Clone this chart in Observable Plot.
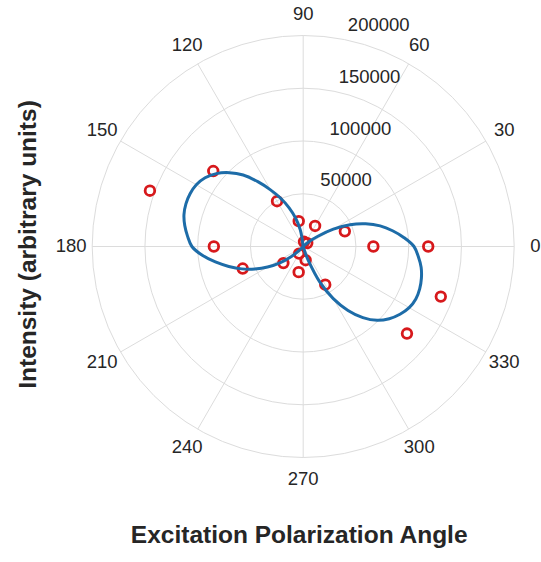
<!DOCTYPE html>
<html>
<head>
<meta charset="utf-8">
<script src="https://cdn.jsdelivr.net/npm/d3@7"></script>
<script src="https://cdn.jsdelivr.net/npm/@observablehq/plot@0.6"></script>
<style>
  html, body { margin: 0; padding: 0; background: #ffffff; }
</style>
</head>
<body>
<div id="chart"></div>
<script>
// ---------- data ----------
const pointAngles = [0, 20, 40, 60, 80, 100, 120, 140, 160, 180, 200, 220, 240, 260, 280, 300, 320, 340, 360];
const pointIntensity = [118500, 42000, 5000, 22500, 4500, 24400, 49600, 111300, 154600, 84700, 61000, 24500, 7800, 24700, 13200, 41800, 128400, 138800, 66500];

// fitted curve, right lobe (angle in degrees, intensity)
const fitAnglesA = [-76, -72, -70, -65, -60, -55, -50, -45, -40, -35, -30, -25, -20, -15, -10, -5, 0, 5, 10, 15, 20, 25, 30, 35, 40, 45];
const fitIntensityA = [0, 8000, 14000, 37000, 57000, 74000, 88000, 99000, 106500, 112000, 116000, 117800, 117500, 116000, 113500, 109500, 105000, 96000, 86000, 75500, 63000, 49000, 33000, 17000, 7000, 0];
// fitted curve, left lobe
const fitAnglesB = [95, 98, 100, 105, 110, 115, 120, 125, 130, 135, 140, 145, 150, 155, 160, 165, 170, 175, 180, 185, 190, 195, 200, 205, 210, 215, 220, 225, 230];
const fitIntensityB = [0, 8000, 16000, 28000, 39000, 50500, 62000, 75000, 88500, 99000, 107500, 113500, 117000, 118300, 118300, 117000, 114000, 110000, 105500, 96000, 84500, 73000, 62000, 50500, 39000, 27000, 15000, 6000, 0];

const ringTicks = [50000, 100000, 150000, 200000];
const angleTicks = [0, 30, 60, 90, 120, 150, 180, 210, 240, 270, 300, 330];
const xTitle = "Excitation Polarization Angle";
const yTitle = "Intensity (arbitrary units)";

// ---------- layout ----------
const W = 541, H = 562;
const cx = 302.7, cy = 246, Rpx = 211;     // centre and outer ring radius in pixels
const rMax = 200000;                        // value at the outer ring
const labelR = 220000;                      // where angle labels sit
const rLabelAngle = 80;                     // direction of the radial tick labels

const rad = a => a * Math.PI / 180;
const px = (a, r) => r * Math.cos(rad(a));
const py = (a, r) => r * Math.sin(rad(a));

const points = pointAngles.map((a, i) => ({a, r: pointIntensity[i]}));
const fit = [
  ...fitAnglesA.map((a, i) => ({a, r: fitIntensityA[i], lobe: "A"})),
  ...fitAnglesB.map((a, i) => ({a, r: fitIntensityB[i], lobe: "B"}))
];

const grid = "#dcdcdc";
const ink = "#262626";

const chart = Plot.plot({
  width: W,
  height: H,
  marginLeft: cx - Rpx,
  marginRight: W - cx - Rpx,
  marginTop: cy - Rpx,
  marginBottom: H - cy - Rpx,
  x: {domain: [-rMax, rMax], axis: null},
  y: {domain: [-rMax, rMax], axis: null},
  r: {type: "linear", domain: [0, rMax], range: [0, Rpx]},
  style: {fontFamily: "'Liberation Sans', Arial, Helvetica, sans-serif", fontSize: "18.5px", color: ink, background: "#ffffff"},
  marks: [
    // spokes
    Plot.link(angleTicks, {
      x1: () => 0, y1: () => 0,
      x2: a => px(a, rMax), y2: a => py(a, rMax),
      stroke: grid, strokeWidth: 1
    }),
    // rings
    Plot.dot(ringTicks, {x: () => 0, y: () => 0, r: d => d, stroke: grid, strokeWidth: 1, fill: "none"}),
    // data points
    Plot.dot(points, {
      x: d => px(d.a, d.r), y: d => py(d.a, d.r),
      r: 4.8, stroke: "#d7191c", strokeWidth: 2.8, fill: "none"
    }),
    // fitted curve
    Plot.line(fit, {
      x: d => px(d.a, d.r), y: d => py(d.a, d.r), z: "lobe",
      stroke: "#1d6ca8", strokeWidth: 3, curve: "catmull-rom"
    }),
    // angle labels
    Plot.text(angleTicks, {
      x: a => px(a, labelR), y: a => py(a, labelR),
      text: d => String(d), fill: ink, fontSize: 18.5
    }),
    // radial labels
    Plot.text(ringTicks, {
      x: v => px(rLabelAngle, v), y: v => py(rLabelAngle, v),
      text: d => String(d), textAnchor: "start", dx: 8, dy: -14, fill: ink, fontSize: 18.5
    }),
    // axis titles
    Plot.text([xTitle], {
      frameAnchor: "bottom", text: d => d, dx: -4, dy: 85,
      fontWeight: "bold", fontSize: 24.5, fill: ink
    }),
    Plot.text([yTitle], {
      frameAnchor: "left", textAnchor: "middle", text: d => d, rotate: -90, dx: -64, dy: -2,
      fontWeight: "bold", fontSize: 24.5, fill: ink
    })
  ]
});

document.getElementById("chart").appendChild(chart);
</script>
</body>
</html>
